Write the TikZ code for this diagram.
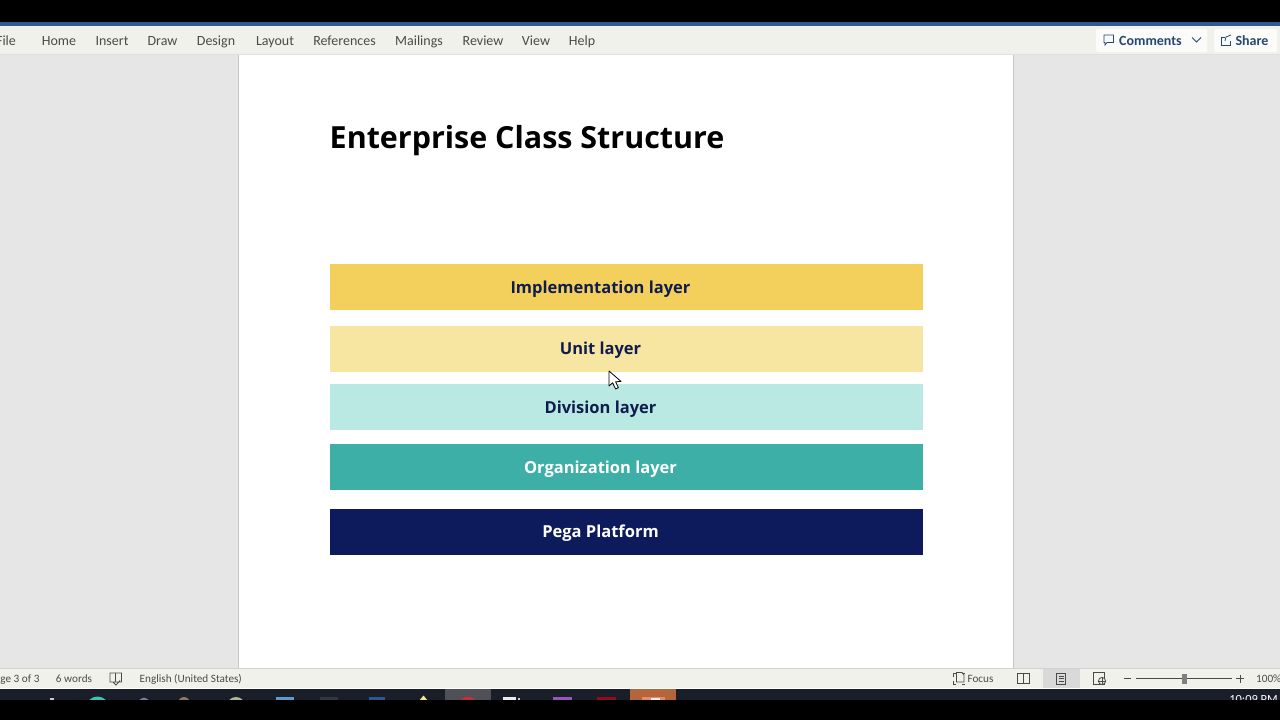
\documentclass[tikz,border=0pt]{standalone}
\usepackage{fontspec}
\setmainfont{Open Sans}
\newfontfamily\uifont{Carlito}
\definecolor{chrome}{HTML}{F1F1EC}
\definecolor{canvasgray}{HTML}{E6E6E6}
\definecolor{wordblue}{HTML}{2F5A8E}
\definecolor{uitext}{HTML}{4A4A4A}
\definecolor{sharetext}{HTML}{26476E}
\definecolor{implc}{HTML}{F3CF5C}
\definecolor{unitc}{HTML}{F7E6A2}
\definecolor{divc}{HTML}{BAE8E3}
\definecolor{orgc}{HTML}{3DAFA6}
\definecolor{pegac}{HTML}{0D1B5C}
\definecolor{navytext}{HTML}{101C4E}
\definecolor{taskbar}{HTML}{1A1E28}
\definecolor{taskhi}{HTML}{4F5058}
\definecolor{taskorange}{HTML}{B5653A}
\definecolor{tasksalmon}{HTML}{E58A70}
\definecolor{iconteal}{HTML}{3FC4B4}
\definecolor{iconlav}{HTML}{7C78A8}
\definecolor{iconbrown}{HTML}{8A7A60}
\definecolor{icongreen}{HTML}{A8BE90}
\definecolor{iconblue}{HTML}{5C9AD0}
\definecolor{icondark}{HTML}{33363C}
\definecolor{iconblue2}{HTML}{2A5A8F}
\definecolor{iconyellow}{HTML}{F2E88A}
\definecolor{iconred}{HTML}{C0303F}
\definecolor{iconpurple}{HTML}{9B55C0}
\definecolor{icondarkred}{HTML}{8E0B20}
\tikzset{x=1pt,y=-1pt,
  layerbar/.style={minimum width=593pt,minimum height=46pt,inner sep=0pt,anchor=north west},
  layertext/.style={font=\bfseries\fontsize{16.5}{18}\selectfont,anchor=base,inner sep=0pt},
  menuitem/.style={font=\uifont\fontsize{14}{16}\selectfont,text=uitext,anchor=base,inner sep=0pt},
  statusitem/.style={font=\uifont\fontsize{11.2}{14}\selectfont,text=uitext,anchor=base,inner sep=0pt},
  sharebtn/.style={fill=white!70!chrome,rounded corners=1.5pt,draw=none},
  icon/.style={draw=uitext,line width=0.8pt,fill=none},
  shareicon/.style={draw=sharetext,line width=0.8pt,fill=none}
}
\begin{document}
\begin{tikzpicture}
\useasboundingbox (0,0) rectangle (1280,720);
\clip (0,0) rectangle (1280,720);
% window background and page
\fill[canvasgray] (0,55) rectangle (1280,668);
\fill[white] (239,55) rectangle (1013,668);
\draw[black!22,line width=0.7pt] (238.7,55) -- (238.7,668) (1013.3,55) -- (1013.3,668);
% ribbon
\fill[black] (0,0) rectangle (1280,22);
\fill[wordblue] (0,21.5) rectangle (1280,26);
\fill[chrome] (0,26) rectangle (1280,54.5);
\draw[black!12,line width=0.8pt] (0,54.8) -- (1280,54.8);
\node[menuitem] (mfile) at (6,45) {File};
\node[menuitem] (mhome) at (59,45) {Home};
\node[menuitem] (minsert) at (112,45) {Insert};
\node[menuitem] (mdraw) at (162.5,45) {Draw};
\node[menuitem] (mdesign) at (216,45) {Design};
\node[menuitem] (mlayout) at (275,45) {Layout};
\node[menuitem] (mrefs) at (344.5,45) {References};
\node[menuitem] (mmail) at (419,45) {Mailings};
\node[menuitem] (mreview) at (483,45) {Review};
\node[menuitem] (mview) at (536,45) {View};
\node[menuitem] (mhelp) at (582,45) {Help};
% comments / share
\fill[sharebtn] (1096,29) rectangle (1207,52);
\fill[sharebtn] (1214,29) rectangle (1277,52);
\node[font=\uifont\bfseries\fontsize{14}{16}\selectfont,text=sharetext,inner sep=0pt,anchor=base] (comments) at (1150.5,45.3) {Comments};
\node[font=\uifont\bfseries\fontsize{14}{16}\selectfont,text=sharetext,inner sep=0pt,anchor=base] (share) at (1252,45.3) {Share};
\draw[shareicon] (1104,35) -- (1113.5,35) -- (1113.5,42.5) -- (1107,42.5) -- (1105,45) -- (1105,42.5) -- (1104,42.5) -- cycle;
\draw[shareicon] (1192,37.5) -- (1196.5,42) -- (1201,37.5);
\draw[shareicon] (1225,37) -- (1221,37) -- (1221,45.5) -- (1230,45.5) -- (1230,41);
\draw[shareicon] (1225,41) -- (1226,37) -- (1231,35);
% title
\node[font=\bfseries\fontsize{30.45}{36}\selectfont,text=black,anchor=base west,inner sep=0pt] (title) at (329.5,148) {Enterprise Class Structure};
% layers
\node[layerbar,fill=implc] (impl) at (329.5,264) {};
\node[layerbar,fill=unitc] (unit) at (329.5,326) {};
\node[layerbar,fill=divc] (divl) at (329.5,384) {};
\node[layerbar,fill=orgc] (org) at (329.5,444) {};
\node[layerbar,fill=pegac] (pega) at (329.5,509) {};
\node[layertext,text=navytext] (timpl) at (600.5,293) {Implementation layer};
\node[layertext,text=navytext] (tunit) at (600.5,354) {Unit layer};
\node[layertext,text=navytext] (tdiv) at (600.5,413) {Division layer};
\node[layertext,text=white] (torg) at (600.5,473) {Organization layer};
\node[layertext,text=white] (tpega) at (600.5,537.3) {Pega Platform};
% mouse pointer
\draw[black,fill=white,line width=0.8pt,line join=round] (609,371) -- (609,386) -- (612.6,382.8) -- (615.6,389) -- (618.4,387.6) -- (615.6,381.8) -- (621,381.4) -- cycle;
% status bar
\fill[chrome] (0,668.5) rectangle (1280,688);
\draw[black!18,line width=0.8pt] (0,668.3) -- (1280,668.3);
\node[statusitem] (spage) at (14.5,682.5) {Page 3 of 3};
\node[statusitem] (swords) at (74,682.5) {6 words};
\draw[icon] (110,673) -- (110,682) -- (115.5,682) -- (115.5,673) -- cycle (115.5,673) -- (121.5,673) -- (121.5,682) -- (115.5,682) (113,682) -- (116,685) -- (120,680.5);
\node[statusitem] (slang) at (190.8,682.5) {English (United States)};
\draw[icon] (953,677) -- (953,673.5) -- (956,673.5) (962,673.5) -- (965,673.5) (953,681) -- (953,684) -- (956,684) (962,684) -- (965,684);
\draw[icon] (956.5,672.5) -- (962,672.5) -- (964,675) -- (964,682) -- (956.5,682) -- cycle;
\node[statusitem] (sfocus) at (980.5,682.5) {Focus};
\draw[icon] (1017,673.5) rectangle (1029,683.5) (1023,673.5) -- (1023,683.5);
\fill[black!15] (1042.5,669) rectangle (1080,688);
\draw[icon] (1056.5,673) rectangle (1065.5,684.5);
\draw[icon,line width=0.6pt] (1058.5,676) -- (1063.5,676) (1058.5,678.5) -- (1063.5,678.5) (1058.5,681) -- (1063.5,681);
\draw[icon] (1093.5,672.5) rectangle (1104,684.5);
\draw[icon,fill=chrome] (1102,681) circle (3.6pt);
\draw[icon,line width=0.5pt] (1098.4,681) -- (1105.6,681) (1102,677.4) -- (1102,684.6);
\draw[uitext,line width=0.8pt] (1124,678.5) -- (1131,678.5);
\draw[uitext,line width=0.8pt] (1136,678.5) -- (1232,678.5);
\fill[gray] (1182,674) rectangle (1187,684);
\draw[uitext,line width=0.8pt] (1236,678.5) -- (1244,678.5) (1240,674.5) -- (1240,682.5);
\node[statusitem,anchor=base west] (szoom) at (1256,682.5) {100\%};
% taskbar, cut off by the black band below
\fill[taskbar] (0,688.5) rectangle (1280,700);
\fill[taskhi] (445,688.5) rectangle (491,700);
\fill[taskorange] (630,688.5) rectangle (676,700);
\fill[black!20] (50,698) rectangle (54,700);
\fill[iconteal] (97.5,708) circle (11.5pt);
\fill[iconlav] (144,703) circle (5.5pt);
\fill[iconbrown] (184,703) circle (6pt);
\fill[icongreen] (236,706) circle (9pt);
\fill[iconblue] (276,697) rectangle (294,705);
\fill[icondark] (320,697) rectangle (338,705);
\fill[iconblue2] (369,697) rectangle (385,705);
\fill[iconyellow] (423.5,695.5) -- (419,701) -- (428,701) -- cycle;
\fill[iconred] (468,705) circle (8.5pt);
\fill[white!85!gray] (503,697) rectangle (516,705);
\fill[white!60!gray] (518,698) rectangle (520,705);
\fill[iconpurple] (553,697) rectangle (572,705);
\fill[icondarkred] (597,697) rectangle (616,705);
\fill[tasksalmon] (642,697) rectangle (665,705);
\fill[white!85!tasksalmon] (651,698) rectangle (660,705);
\node[font=\uifont\fontsize{12.4}{15}\selectfont,text=white,inner sep=0pt,anchor=base] (clock) at (1253.5,703) {10:09 PM};
% black bottom band
\fill[black] (0,700) rectangle (1280,720);
\end{tikzpicture}
\end{document}
